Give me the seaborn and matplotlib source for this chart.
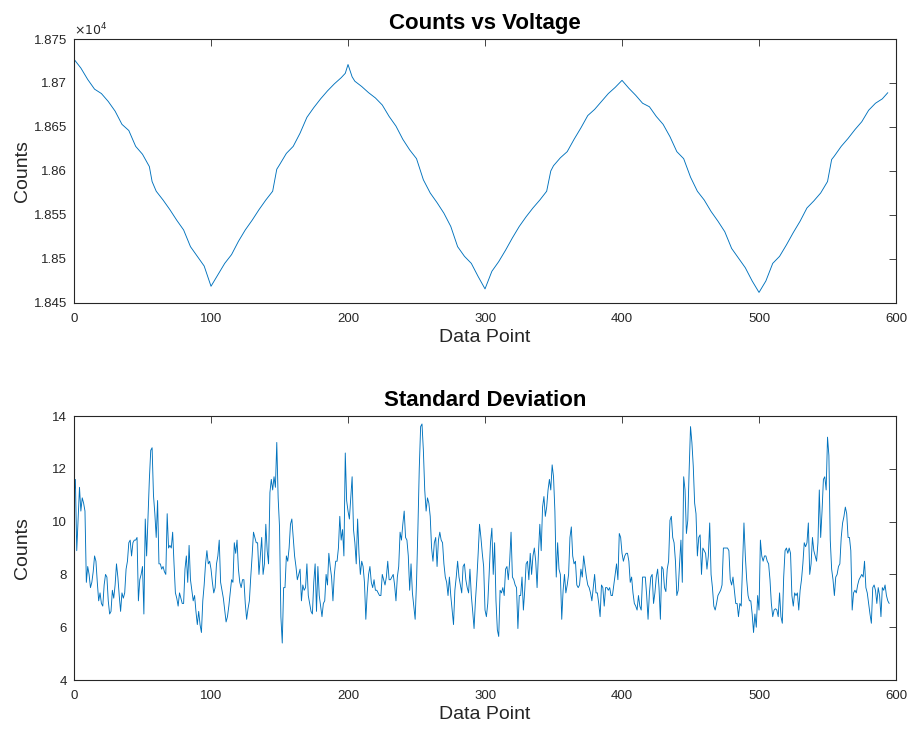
import numpy as np
import pandas as pd
import matplotlib
matplotlib.use('Agg')
import matplotlib.pyplot as plt
import seaborn as sns

# ---- data ----
# top panel: counts sampled along the sweep (data point index, counts)
top_points = [0, 5, 10, 15, 20, 25, 30, 35, 40, 45, 50, 55, 57, 60, 65, 70, 75, 80, 85, 90, 95,
              100, 105, 110, 115, 120, 125, 130, 135, 140, 145, 148, 150, 155, 160, 165, 170,
              175, 180, 185, 190, 195, 198, 200, 203, 205, 210, 215, 220, 225, 230, 235, 240,
              245, 250, 255, 260, 265, 270, 275, 280, 285, 290, 295, 300, 305, 310, 315, 320,
              325, 330, 335, 340, 345, 348, 350, 355, 360, 365, 370, 375, 380, 385, 390, 395,
              400, 405, 410, 415, 420, 425, 430, 435, 440, 445, 450, 455, 460, 465, 470, 475,
              480, 485, 490, 495, 500, 505, 510, 515, 520, 525, 530, 535, 540, 545, 550, 553,
              555, 560, 565, 570, 575, 580, 585, 590, 594]
top_counts = [18727, 18717, 18704, 18693, 18688, 18679, 18668, 18653, 18646, 18628, 18619,
              18605, 18588, 18577, 18567, 18556, 18544, 18533, 18514, 18503, 18492,
              18469, 18482, 18495, 18505, 18520, 18533, 18544, 18556, 18567, 18577, 18602,
              18607, 18620, 18628, 18643, 18661, 18672, 18682, 18691, 18699, 18706, 18711,
              18721, 18707, 18702, 18696, 18689, 18683, 18675, 18662, 18651, 18636, 18624,
              18614, 18590, 18575, 18564, 18552, 18537, 18514, 18503, 18495, 18480, 18466,
              18486, 18497, 18510, 18524, 18537, 18548, 18558, 18567, 18577, 18600, 18606,
              18615, 18622, 18636, 18649, 18663, 18670, 18679, 18688, 18695, 18703, 18694,
              18686, 18677, 18673, 18662, 18653, 18639, 18622, 18614, 18593, 18577, 18567,
              18554, 18543, 18531, 18512, 18501, 18490, 18475, 18462, 18475, 18495, 18503,
              18516, 18530, 18543, 18558, 18566, 18575, 18588, 18613, 18617, 18628, 18637,
              18647, 18656, 18669, 18677, 18682, 18689]

# bottom panel: standard deviation per data point, in blocks of ~100 points
std_000 = [11.0, 11.6, 8.9, 10.1, 11.3, 10.4, 10.9, 10.7, 10.4, 7.7,
           8.3, 8.0, 7.5, 7.7, 8.1, 8.7, 8.5, 7.7, 7.0, 7.3,
           6.9, 6.8, 7.6, 8.0, 7.9, 7.0, 6.5, 6.6, 7.4, 7.1,
           7.6, 8.4, 7.9, 7.2, 6.6, 7.3, 7.1, 7.3, 8.2, 8.5,
           9.2, 9.3, 8.7, 9.2, 9.3, 9.3, 9.4, 7.0, 7.8, 8.0,
           8.3, 6.5, 10.1, 8.7, 10.2, 11.6, 12.7, 12.8, 11.0, 10.3,
           9.4, 10.8, 8.4, 8.4, 8.2, 8.3, 8.1, 8.0, 10.3, 9.0,
           9.1, 9.0, 9.6, 8.4, 7.3, 7.1, 6.8, 7.3, 7.1, 6.9,
           6.9, 8.2, 8.7, 7.7, 9.1, 7.8, 7.4, 7.0, 7.2, 6.6,
           6.1, 6.6, 6.1, 5.8, 7.0, 7.6, 8.4, 8.9, 8.4]
std_099 = [8.5, 8.2, 7.7, 7.3, 7.5, 8.4, 8.7, 9.3, 7.7, 7.4,
           7.1, 6.65, 6.2, 6.4, 6.8, 7.3, 7.8, 7.7, 9.2, 8.8,
           9.3, 8.2, 7.7, 7.5, 7.8, 7.8, 6.9, 6.3, 6.7, 7.0,
           7.9, 8.7, 9.6, 9.4, 9.2, 9.2, 8.0, 8.7, 9.4, 8.0,
           8.4, 9.9, 8.9, 8.4, 11.1, 11.6, 11.2, 11.7, 11.3, 13.0,
           10.9, 9.8, 6.4, 5.4, 7.5, 7.5, 8.7, 8.5, 9.0, 9.9,
           10.1, 9.4, 8.7, 8.3, 7.8, 8.0, 8.2, 7.0, 7.6, 7.4,
           7.5, 8.4, 7.2, 6.9, 6.6, 6.5, 7.7, 8.4, 6.6, 8.3,
           7.2, 6.8, 6.4, 6.9, 7.0, 8.0, 7.6, 8.8, 8.3, 7.9,
           7.0, 8.0, 8.5, 8.5, 9.0, 10.2, 9.3, 9.7, 8.7, 12.6,
           10.8, 10.4, 10.1]
std_202 = [10.9, 11.7, 9.7, 9.2, 8.4, 10.1, 8.8, 8.0, 8.5, 8.3,
           7.7, 6.3, 7.3, 8.0, 8.3, 7.7, 7.5, 7.8, 7.4, 7.4,
           7.3, 7.2, 7.2, 8.0, 7.8, 7.6, 7.9, 8.5, 7.8, 7.8,
           7.9, 8.0, 7.6, 7.0, 7.9, 8.3, 9.6, 9.3, 9.9, 10.4,
           9.4, 9.3, 8.7, 7.4, 8.4, 7.3, 6.8, 6.3, 7.7, 9.7,
           12.0, 13.6, 13.7, 12.7, 11.2, 10.4, 10.9, 10.7, 10.2, 9.0,
           8.5, 9.2, 9.4, 8.3, 9.3, 9.6, 9.3, 9.2, 8.4, 7.9,
           7.7, 7.2, 7.9, 7.2, 6.65, 6.1, 7.4, 7.9, 8.5, 7.9,
           7.6, 7.3, 8.3, 8.4, 7.8, 7.5, 7.3, 8.2, 7.2, 6.6,
           5.95, 7.0, 7.8, 8.8, 9.9, 9.4, 8.8, 8.3, 6.65, 6.4,
           6.9, 8.0]
std_304 = [9.2, 9.75, 8.0, 9.2, 7.0, 5.9, 5.65, 7.4, 7.3, 7.5,
           7.2, 8.2, 8.3, 7.8, 8.5, 9.6, 7.9, 7.8, 7.6, 7.5,
           5.95, 7.2, 7.2, 7.9, 6.65, 7.4, 8.4, 8.5, 7.8, 8.8,
           8.0, 8.7, 9.0, 8.5, 7.5, 8.8, 9.9, 8.9, 10.55, 10.95,
           10.2, 10.55, 11.2, 11.6, 11.2, 12.15, 11.7, 10.4, 7.9, 9.2,
           8.2, 8.0, 6.3, 7.4, 8.0, 7.3, 7.6, 8.0, 9.4, 9.8,
           8.7, 8.4, 8.5, 7.6, 7.5, 7.6, 8.2, 7.9, 8.7, 8.3,
           7.9, 7.6, 7.5, 7.3, 7.0, 7.5, 8.0, 7.3, 7.3, 6.9,
           6.4, 7.6, 7.5, 6.8, 7.5, 7.5, 7.4, 7.5, 7.2, 7.2,
           7.6, 8.0, 8.4, 7.8, 9.55, 9.4, 8.8, 8.5, 8.7, 8.8]
std_404 = [8.8, 8.5, 7.7, 7.9, 7.3, 6.9, 6.8, 6.65, 7.2, 6.8,
           6.65, 7.9, 7.9, 7.9, 7.2, 6.3, 7.3, 7.9, 8.0, 6.9,
           7.3, 7.9, 8.2, 7.5, 6.3, 8.3, 8.2, 7.5, 7.35, 8.2,
           8.5, 10.05, 10.2, 9.4, 9.2, 8.5, 7.2, 7.4, 8.4, 9.3,
           7.7, 11.7, 11.2, 9.55, 10.05, 11.95, 13.6, 13.0, 12.1, 10.7,
           10.3, 8.7, 9.4, 9.5, 8.0, 9.0, 8.9, 8.8, 8.2, 8.7,
           9.95, 8.0, 7.5, 6.8, 6.65, 6.9, 7.2, 7.3, 7.4, 7.6,
           9.0, 9.0, 9.0, 9.0, 8.9, 7.8, 7.6, 7.9, 7.4, 6.9,
           6.9, 6.4, 6.9, 6.8, 8.4, 9.95, 8.7, 7.8, 7.2, 7.0,
           7.0, 6.5, 5.8, 6.5, 6.0, 7.2, 6.65, 9.3, 8.7, 8.5,
           8.7]
std_505 = [8.7, 8.5, 8.4, 7.8, 6.9, 6.4, 6.65, 6.7, 6.65, 6.4,
           7.3, 6.4, 6.15, 7.9, 8.9, 9.0, 8.8, 9.0, 8.8, 7.2,
           6.8, 7.3, 7.2, 7.3, 6.65, 7.4, 7.8, 8.4, 9.2, 9.05,
           9.2, 9.95, 8.0, 8.4, 9.4, 8.9, 8.7, 8.5, 9.2, 11.2,
           9.4, 10.4, 11.6, 11.7, 11.2, 13.2, 12.5, 9.3, 8.2, 7.8,
           7.2, 7.9, 8.0, 8.3, 8.4, 9.4, 9.95, 10.2, 10.55, 10.3,
           9.4, 9.4, 8.9, 6.65, 7.3, 7.4, 7.3, 7.6, 7.8, 7.9,
           8.0, 7.9, 8.5, 7.5, 7.3, 6.9, 6.5, 6.15, 7.5, 7.6,
           7.4, 6.9, 7.5, 7.2, 6.4, 7.5, 7.4, 7.6, 7.2, 7.0,
           6.9]

top_yticks = [18450, 18500, 18550, 18600, 18650, 18700, 18750]
top_ylabels = ['1.845', '1.85', '1.855', '1.86', '1.865', '1.87', '1.875']

std_counts = std_000 + std_099 + std_202 + std_304 + std_404 + std_505
df_top = pd.DataFrame({'point': top_points, 'counts': top_counts})
df_std = pd.DataFrame({'point': np.arange(len(std_counts)), 'std': std_counts})

sns.set_theme(style='white')
plt.rcParams['font.family'] = ['Liberation Sans', 'DejaVu Sans']

line_blue = '#0072BD'
ink = '#262626'

fig = plt.figure(figsize=(9.07, 7.29), dpi=100)
ax1 = fig.add_axes([0.0816, 0.5844, 0.9063, 0.3621])
ax2 = fig.add_axes([0.0816, 0.0672, 0.9063, 0.3621])

sns.lineplot(data=df_top, x='point', y='counts', ax=ax1, color=line_blue,
             linewidth=0.65, estimator=None)
sns.lineplot(data=df_std, x='point', y='std', ax=ax2, color=line_blue,
             linewidth=0.65, estimator=None)


def matlab_look(ax, title):
    for sp in ax.spines.values():
        sp.set_color(ink)
        sp.set_linewidth(0.8)
    ax.tick_params(direction='in', length=5, width=0.6, colors=ink,
                   top=True, right=True, labelsize=9.5)
    ax.tick_params(axis='x', pad=7)
    ax.tick_params(axis='y', pad=5)
    ax.set_xlim(0, 600)
    ax.set_xticks(range(0, 601, 100))
    ax.set_title(title, fontsize=16, fontweight='bold', color='black', pad=7)
    ax.set_xlabel('Data Point', fontsize=14, color=ink, labelpad=3)
    ax.set_ylabel('Counts', fontsize=14, color=ink)
    ax.yaxis.set_label_coords(-0.052, 0.5)


matlab_look(ax1, 'Counts vs Voltage')
ax1.set_ylim(18450, 18750)
ax1.set_yticks(top_yticks)
ax1.set_yticklabels(top_ylabels)
ax1.text(0.0, 1.004, r'$\times10^{4}$', transform=ax1.transAxes,
         ha='left', va='bottom', fontsize=9, color=ink)

matlab_look(ax2, 'Standard Deviation')
ax2.set_ylim(4, 14)
ax2.set_yticks(range(4, 15, 2))

fig.savefig('out.png', dpi=100, facecolor='white')
